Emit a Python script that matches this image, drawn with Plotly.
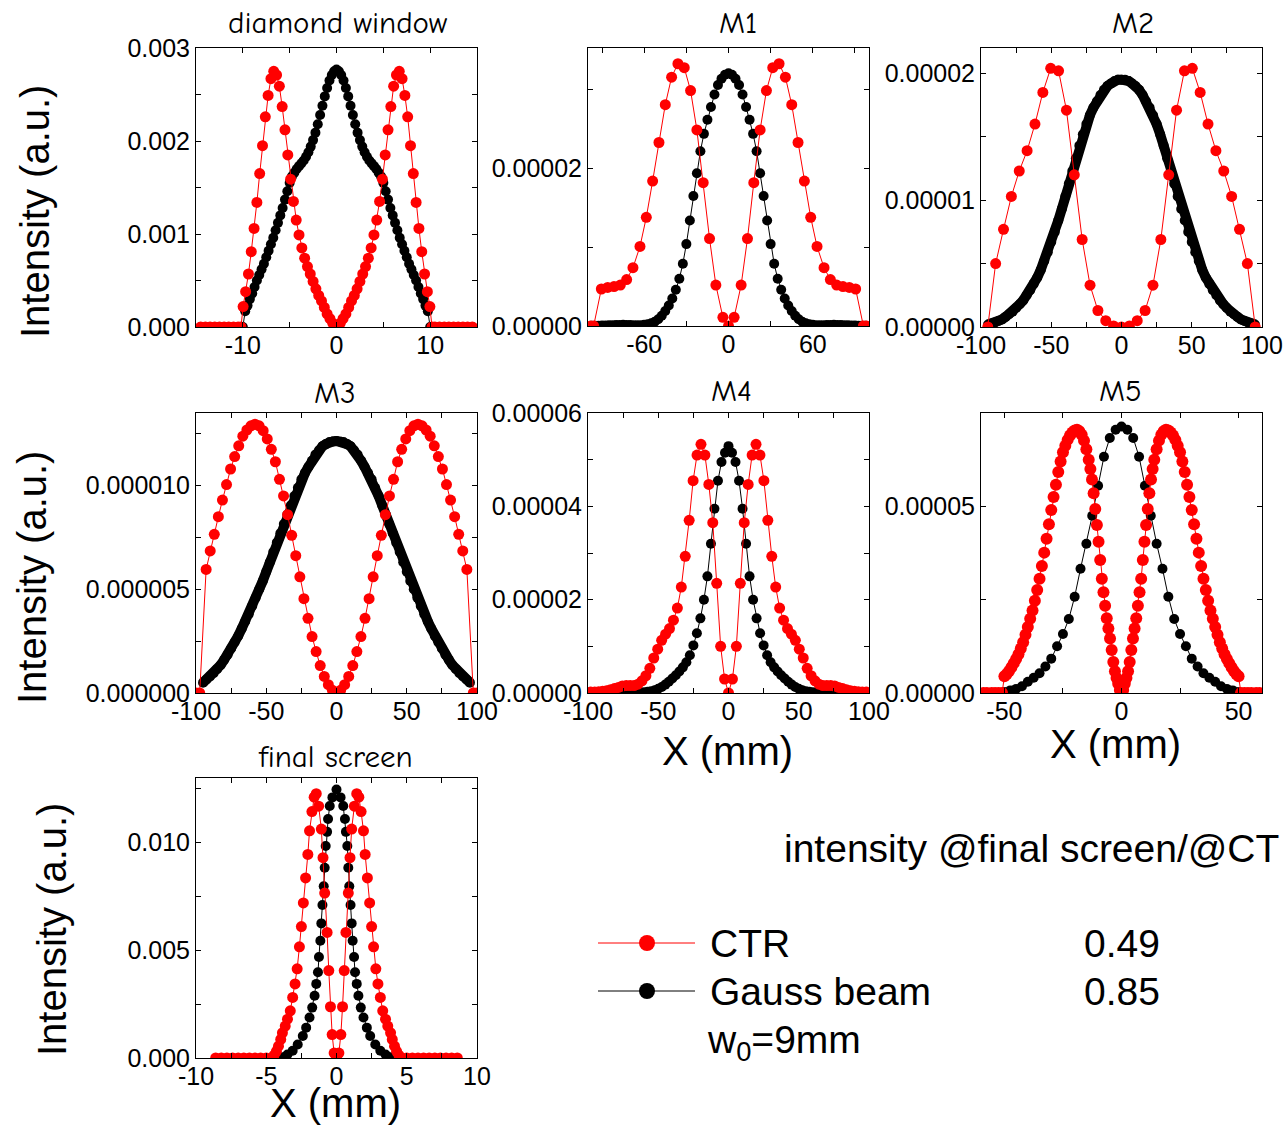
import plotly.graph_objects as go

# ---------------------------------------------------------------
# Data
# ---------------------------------------------------------------

# diamond window (y in units of 1e-3)
dw_ctr_x = [-14.5, -14.0, -13.5, -13.0, -12.5, -12.0, -11.5, -11.0, -10.5, -10.2,
            -9.97, -9.7, -9.4, -9.1, -8.8, -8.5, -8.2, -7.9, -7.6, -7.3, -7.0, -6.7, -6.4, -6.1, -5.8,
            -5.5, -5.2, -4.9, -4.6, -4.3, -4.0, -3.7, -3.4, -3.1, -2.8, -2.5, -2.2, -1.9, -1.6, -1.3,
            -1.0, -0.7, -0.4, -0.15,
            0.0,
            0.15, 0.4, 0.7, 1.0, 1.3, 1.6, 1.9, 2.2, 2.5, 2.8, 3.1, 3.4, 3.7, 4.0, 4.3, 4.6, 4.9,
            5.2, 5.5, 5.8, 6.1, 6.4, 6.7, 7.0, 7.3, 7.6, 7.9, 8.2, 8.5, 8.8, 9.1, 9.4, 9.7, 9.97,
            10.2, 10.5, 11.0, 11.5, 12.0, 12.5, 13.0, 13.5, 14.0, 14.5]
dw_ctr_y = [0, 0, 0, 0, 0, 0, 0, 0, 0, 0,
            0.22, 0.38, 0.57, 0.81, 1.06, 1.34, 1.65, 1.95, 2.26, 2.49, 2.67, 2.75, 2.71, 2.59, 2.37,
            2.12, 1.85, 1.59, 1.35, 1.15, 0.99, 0.85, 0.74, 0.65, 0.57, 0.49, 0.41, 0.34, 0.28, 0.21,
            0.14, 0.09, 0.04, 0.01,
            0.0,
            0.01, 0.04, 0.09, 0.14, 0.21, 0.28, 0.34, 0.41, 0.49, 0.57, 0.65, 0.74, 0.85, 0.99, 1.15,
            1.35, 1.59, 1.85, 2.12, 2.37, 2.59, 2.71, 2.75, 2.67, 2.49, 2.26, 1.95, 1.65, 1.34, 1.06,
            0.81, 0.57, 0.38, 0.22,
            0, 0, 0, 0, 0, 0, 0, 0, 0, 0]
dw_gauss_x = [-14.5, -13.5, -12.5, -11.5, -10.5, -10.0,
              -9.75, -9.5, -9.25, -9.0, -8.75, -8.5, -8.25, -8.0, -7.75, -7.5, -7.25, -7.0, -6.75,
              -6.5, -6.25, -6.0, -5.75, -5.5, -5.25, -5.0, -4.75, -4.5, -4.25, -4.0, -3.75, -3.5,
              -3.25, -3.0, -2.75, -2.5, -2.25, -2.0, -1.75, -1.5, -1.25, -1.0, -0.75, -0.5, -0.25,
              0.0,
              0.25, 0.5, 0.75, 1.0, 1.25, 1.5, 1.75, 2.0, 2.25, 2.5, 2.75, 3.0, 3.25, 3.5, 3.75,
              4.0, 4.25, 4.5, 4.75, 5.0, 5.25, 5.5, 5.75, 6.0, 6.25, 6.5, 6.75, 7.0, 7.25, 7.5,
              7.75, 8.0, 8.25, 8.5, 8.75, 9.0, 9.25, 9.5, 9.75,
              10.0, 10.5, 11.5, 12.5, 13.5, 14.5]
dw_gauss_y = [0, 0, 0, 0, 0, 0,
              0.17, 0.23, 0.30, 0.36, 0.43, 0.50, 0.56, 0.62, 0.68, 0.75, 0.82, 0.89, 0.96,
              1.04, 1.12, 1.20, 1.28, 1.37, 1.46, 1.55, 1.62, 1.66, 1.70, 1.73, 1.76, 1.79,
              1.83, 1.88, 1.94, 2.01, 2.09, 2.18, 2.28, 2.38, 2.48, 2.57, 2.65, 2.71, 2.75,
              2.77,
              2.75, 2.71, 2.65, 2.57, 2.48, 2.38, 2.28, 2.18, 2.09, 2.01, 1.94, 1.88, 1.83, 1.79,
              1.76, 1.73, 1.70, 1.66, 1.62, 1.55, 1.46, 1.37, 1.28, 1.20, 1.12, 1.04, 0.96, 0.89,
              0.82, 0.75, 0.68, 0.62, 0.56, 0.50, 0.43, 0.36, 0.30, 0.23, 0.17,
              0, 0, 0, 0, 0, 0]

# M1 (y in units of 1e-6)
m1_ctr_x = [-98, -96, -90.5, -86, -81.5, -77, -72.5, -68, -63, -58.5, -54, -49.5, -45, -40.5, -36,
            -31.5, -27, -22.5, -18, -13.5, -9, -4, 0, 4, 9, 13.5, 18, 22.5, 27, 31.5, 36, 40.5, 45,
            49.5, 54, 58.5, 63, 68, 72.5, 77, 81.5, 86, 90.5, 96, 98]
m1_ctr_y = [0, 0, 4.7, 4.9, 5.0, 5.2, 5.9, 7.4, 10.1, 13.8, 18.4, 23.3, 28.1, 31.6, 33.3,
            32.8, 29.9, 24.9, 18.2, 11.1, 5.2, 1.1, 0, 1.1, 5.2, 11.1, 18.2, 24.9, 29.9, 32.8, 33.3,
            31.6, 28.1, 23.3, 18.4, 13.8, 10.1, 7.4, 5.9, 5.2, 5.0, 4.9, 4.7, 0, 0]
m1_gauss_x = [-97.5, -95, -92.5, -90, -87.5, -85, -82.5, -80, -77.5, -75, -72.5, -70, -67.5, -65,
              -62.5, -60, -57.5, -55, -52.5, -50, -47.5, -45, -42.5, -40, -37.5, -35, -32.5, -30,
              -27.5, -25, -22.5, -20, -17.5, -15, -12.5, -10, -7.5, -5, -2.5, 0,
              2.5, 5, 7.5, 10, 12.5, 15, 17.5, 20, 22.5, 25, 27.5, 30, 32.5, 35, 37.5, 40, 42.5,
              45, 47.5, 50, 52.5, 55, 57.5, 60, 62.5, 65, 67.5, 70, 72.5, 75, 77.5, 80, 82.5, 85,
              87.5, 90, 92.5, 95, 97.5]
m1_gauss_y = [0.02, 0.03, 0.04, 0.05, 0.06, 0.08, 0.10, 0.12, 0.14, 0.15, 0.14, 0.12, 0.10, 0.10,
              0.10, 0.15, 0.22, 0.35, 0.55, 0.85, 1.3, 1.9, 2.6, 3.5, 4.6, 6.0, 7.9, 10.4,
              13.4, 16.5, 19.4, 22.2, 24.4, 26.2, 27.8, 29.4, 30.6, 31.4, 31.9, 32.1,
              31.9, 31.4, 30.6, 29.4, 27.8, 26.2, 24.4, 22.2, 19.4, 16.5, 13.4, 10.4, 7.9, 6.0,
              4.6, 3.5, 2.6, 1.9, 1.3, 0.85, 0.55, 0.35, 0.22, 0.15, 0.10, 0.10, 0.10, 0.12, 0.14,
              0.15, 0.14, 0.12, 0.10, 0.08, 0.06, 0.05, 0.04, 0.03, 0.02]

# M2 (y in units of 1e-6)
m2_ctr_x = [-95.2, -89.6, -84.0, -78.4, -72.8, -67.2, -61.6, -56.0, -50.4, -44.8, -39.2, -33.6,
            -28.0, -22.4, -16.8, -11.2, -5.6, 0.0, 5.6, 11.2, 16.8, 22.4, 28.0, 33.6, 39.2, 44.8,
            50.4, 56.0, 61.6, 67.2, 72.8, 78.4, 84.0, 89.6, 95.2]
m2_ctr_y = [0, 5.0, 7.7, 10.3, 12.3, 13.9, 16.0, 18.5, 20.4, 20.2, 17.1, 12.0,
            6.9, 3.3, 1.3, 0.5, 0.08, 0, 0.08, 0.5, 1.3, 3.3, 6.9, 12.0, 17.1, 20.2,
            20.4, 18.5, 16.0, 13.9, 12.3, 10.3, 7.7, 5.0, 0]
m2_gauss_x = [-95, -92.5, -90, -87.5, -85, -82.5, -80, -77.5, -75, -72.5, -70, -67.5, -65, -62.5,
              -60, -57.5, -55, -52.5, -50, -47.5, -45, -42.5, -40, -37.5, -35, -32.5, -30, -27.5,
              -25, -22.5, -20, -17.5, -15, -12.5, -10, -7.5, -5, -2.5, 0,
              2.5, 5, 7.5, 10, 12.5, 15, 17.5, 20, 22.5, 25, 27.5, 30, 32.5, 35, 37.5, 40, 42.5,
              45, 47.5, 50, 52.5, 55, 57.5, 60, 62.5, 65, 67.5, 70, 72.5, 75, 77.5, 80, 82.5, 85,
              87.5, 90, 92.5, 95]
m2_gauss_y = [0.2, 0.27, 0.36, 0.47, 0.6, 0.8, 1.0, 1.2, 1.5, 1.8, 2.1, 2.5, 2.9, 3.4,
              3.9, 4.5, 5.2, 5.9, 6.7, 7.5, 8.4, 9.3, 10.3, 11.3, 12.3, 13.3, 14.3, 15.2,
              16.0, 16.7, 17.3, 17.8, 18.3, 18.7, 19.0, 19.2, 19.4, 19.5, 19.5,
              19.5, 19.4, 19.2, 19.0, 18.7, 18.3, 17.8, 17.3, 16.7, 16.0, 15.2, 14.3, 13.3, 12.3,
              11.3, 10.3, 9.3, 8.4, 7.5, 6.7, 5.9, 5.2, 4.5, 3.9, 3.4, 2.9, 2.5, 2.1, 1.8, 1.5,
              1.2, 1.0, 0.8, 0.6, 0.47, 0.36, 0.27, 0.2]

# M3 (y in units of 1e-6)
m3_ctr_x = [-100, -97.4, -92.8, -89.9, -87.0, -84.1, -81.2, -78.3, -75.4, -72.5, -69.6, -66.7,
            -63.8, -60.9, -58.0, -55.1, -52.2, -49.3, -46.4, -43.5, -40.6, -37.7, -34.8, -31.9,
            -29.0, -26.1, -23.2, -20.3, -17.4, -14.5, -11.6, -8.7, -5.8, -2.9, 0.0,
            2.9, 5.8, 8.7, 11.6, 14.5, 17.4, 20.3, 23.2, 26.1, 29.0, 31.9, 34.8, 37.7, 40.6, 43.5,
            46.4, 49.3, 52.2, 55.1, 58.0, 60.9, 63.8, 66.7, 69.6, 72.5, 75.4, 78.3, 81.2, 84.1,
            87.0, 89.9, 92.8, 97.4, 100]
m3_ctr_y = [0, 0, 5.96, 6.85, 7.65, 8.5, 9.3, 10.05, 10.8, 11.4, 11.92, 12.38,
            12.68, 12.88, 12.96, 12.88, 12.65, 12.25, 11.75, 11.15, 10.3, 9.5, 8.6, 7.6,
            6.62, 5.6, 4.55, 3.6, 2.72, 2.0, 1.32, 0.80, 0.40, 0.13, 0,
            0.13, 0.40, 0.80, 1.32, 2.0, 2.72, 3.6, 4.55, 5.6, 6.62, 7.6, 8.6, 9.5, 10.3, 11.15,
            11.75, 12.25, 12.65, 12.88, 12.96, 12.88, 12.68, 12.38, 11.92, 11.4, 10.8, 10.05, 9.3,
            8.5, 7.65, 6.85, 5.96, 0, 0]
m3_gauss_x = [-95, -92.5, -90, -87.5, -85, -82.5, -80, -77.5, -75, -72.5, -70, -67.5, -65, -62.5,
              -60, -57.5, -55, -52.5, -50, -47.5, -45, -42.5, -40, -37.5, -35, -32.5, -30, -27.5,
              -25, -22.5, -20, -17.5, -15, -12.5, -10, -7.5, -5, -2.5, 0,
              2.5, 5, 7.5, 10, 12.5, 15, 17.5, 20, 22.5, 25, 27.5, 30, 32.5, 35, 37.5, 40, 42.5,
              45, 47.5, 50, 52.5, 55, 57.5, 60, 62.5, 65, 67.5, 70, 72.5, 75, 77.5, 80, 82.5, 85,
              87.5, 90, 92.5, 95]
m3_gauss_y = [0.5, 0.65, 0.8, 0.95, 1.15, 1.35, 1.6, 1.85, 2.15, 2.45, 2.75, 3.1, 3.45, 3.8,
              4.2, 4.6, 5.0, 5.4, 5.85, 6.3, 6.8, 7.25, 7.7, 8.15, 8.6, 9.05, 9.5, 9.9,
              10.3, 10.6, 10.9, 11.2, 11.5, 11.7, 11.9, 12.0, 12.1, 12.13, 12.15,
              12.13, 12.1, 12.0, 11.9, 11.7, 11.5, 11.2, 10.9, 10.6, 10.3, 9.9, 9.5, 9.05, 8.6,
              8.15, 7.7, 7.25, 6.8, 6.3, 5.85, 5.4, 5.0, 4.6, 4.2, 3.8, 3.45, 3.1, 2.75, 2.45,
              2.15, 1.85, 1.6, 1.35, 1.15, 0.95, 0.8, 0.65, 0.5]

# M4 (y in units of 1e-6)
m4_ctr_x = [-98.0, -95.2, -92.4, -89.6, -86.8, -84.0, -81.2, -78.4, -75.6, -72.8, -70.0, -67.2,
            -64.4, -61.6, -58.8, -56.0, -53.2, -50.4, -47.6, -44.8, -42.0, -39.2, -36.4, -33.6,
            -30.8, -28.0, -25.2, -22.4, -19.6, -16.8, -14.0, -11.2, -8.4, -5.6, -2.8, 0.0,
            2.8, 5.6, 8.4, 11.2, 14.0, 16.8, 19.6, 22.4, 25.2, 28.0, 30.8, 33.6, 36.4, 39.2, 42.0,
            44.8, 47.6, 50.4, 53.2, 56.0, 58.8, 61.6, 64.4, 67.2, 70.0, 72.8, 75.6, 78.4, 81.2,
            84.0, 86.8, 89.6, 92.4, 95.2, 98.0]
m4_ctr_y = [0.2, 0.2, 0.25, 0.35, 0.5, 0.7, 0.95, 1.2, 1.5, 1.6, 1.6, 1.6,
            1.9, 2.6, 3.7, 5.3, 7.5, 9.4, 11.3, 12.6, 13.8, 15.6, 18.2, 22.7,
            29.3, 37.0, 45.5, 51.0, 53.3, 51.0, 44.7, 36.5, 23.5, 10.0, 3.0, 0,
            3.0, 10.0, 23.5, 36.5, 44.7, 51.0, 53.3, 51.0, 45.5, 37.0, 29.3, 22.7, 18.2, 15.6, 13.8,
            12.6, 11.3, 9.4, 7.5, 5.3, 3.7, 2.6, 1.9, 1.6, 1.6, 1.6, 1.5, 1.2, 0.95,
            0.7, 0.5, 0.35, 0.25, 0.2, 0.2]
m4_gauss_x = [-90, -87.5, -85, -82.5, -80, -77.5, -75, -72.5, -70, -67.5, -65, -62.5,
              -60, -57.5, -55, -52.5, -50, -47.5, -45, -42.5, -40, -37.5, -35, -32.5, -30, -27.5,
              -25, -22.5, -20, -17.5, -15, -12.5, -10, -7.5, -5, -2.5, 0,
              2.5, 5, 7.5, 10, 12.5, 15, 17.5, 20, 22.5, 25, 27.5, 30, 32.5, 35, 37.5, 40, 42.5,
              45, 47.5, 50, 52.5, 55, 57.5, 60, 62.5, 65, 67.5, 70, 72.5, 75, 77.5, 80, 82.5, 85,
              87.5, 90]
m4_gauss_y = [0, 0, 0.01, 0.01, 0.02, 0.02, 0.03, 0.04, 0.05, 0.06, 0.08, 0.1,
              0.15, 0.25, 0.4, 0.6, 0.9, 1.3, 1.8, 2.4, 3.1, 3.8, 4.6, 5.5, 6.6, 8.1,
              10.2, 12.8, 16.0, 20.0, 25.0, 32.0, 39.5, 45.5, 49.5, 51.5, 52.9,
              51.5, 49.5, 45.5, 39.5, 32.0, 25.0, 20.0, 16.0, 12.8, 10.2, 8.1, 6.6, 5.5, 4.6, 3.8,
              3.1, 2.4, 1.8, 1.3, 0.9, 0.6, 0.4, 0.25, 0.15, 0.1, 0.08, 0.06, 0.05, 0.04, 0.03,
              0.02, 0.02, 0.01, 0.01, 0, 0]

# M5 (y in units of 1e-6)
m5_ctr_x = [-59, -57.5, -55.5, -54, -52.5, -51,
            -50, -49, -48, -47, -46, -45, -44, -43, -42, -41, -40, -39, -38, -37, -36, -35, -34,
            -33, -32, -31, -30, -29, -28, -27, -26, -25, -24, -23, -22, -21, -20, -19, -18, -17,
            -16, -15, -14,
            -13.3, -12.6, -11.9, -11.2, -10.5, -9.8, -9.1, -8.4, -7.7, -7.0, -6.3, -5.6, -4.9,
            -4.2, -3.5, -2.8, -2.1, -1.4, -0.7, 0.0, 0.7, 1.4, 2.1, 2.8, 3.5, 4.2, 4.9, 5.6, 6.3,
            7.0, 7.7, 8.4, 9.1, 9.8, 10.5, 11.2, 11.9, 12.6, 13.3,
            14, 15, 16, 17, 18, 19, 20, 21, 22, 23, 24, 25, 26, 27, 28, 29, 30, 31, 32, 33, 34,
            35, 36, 37, 38, 39, 40, 41, 42, 43, 44, 45, 46, 47, 48, 49, 50,
            51, 52.5, 54, 55.5, 57.5, 59]
m5_ctr_y = [0, 0, 0, 0, 0, 0,
            4.5, 5.1, 5.9, 6.9, 8.0, 9.1, 10.4, 11.9, 13.6, 15.6, 17.7, 19.9, 22.1, 24.7, 27.6,
            30.6, 34.0, 37.6, 41.3, 45.2, 49.0, 52.5, 55.8, 59.2, 62.0, 64.5, 66.2, 67.8, 69.0,
            69.8, 70.3, 70.5, 70.1, 69.2, 67.6, 65.3, 62.5,
            60.0, 57.2, 53.5, 49.3, 45.0, 40.5, 35.6, 30.6, 27.0, 23.4, 20.0, 17.3, 14.6,
            11.5, 8.3, 5.8, 4.0, 2.5, 0.8, 0.0, 0.8, 2.5, 4.0, 5.8, 8.3, 11.5, 14.6, 17.3, 20.0,
            23.4, 27.0, 30.6, 35.6, 40.5, 45.0, 49.3, 53.5, 57.2, 60.0,
            62.5, 65.3, 67.6, 69.2, 70.1, 70.5, 70.3, 69.8, 69.0, 67.8, 66.2, 64.5, 62.0, 59.2,
            55.8, 52.5, 49.0, 45.2, 41.3, 37.6, 34.0, 30.6, 27.6, 24.7, 22.1, 19.9, 17.7, 15.6,
            13.6, 11.9, 10.4, 9.1, 8.0, 6.9, 5.9, 5.1, 4.5,
            0, 0, 0, 0, 0, 0]
m5_gauss_x = [-50, -47.5, -45, -42.5, -40, -37.5, -35, -32.5, -30, -27.5, -25, -22.5, -20, -17.5,
              -15, -12.5, -10, -7.5, -5, -2.5, 0, 2.5, 5, 7.5, 10, 12.5, 15, 17.5, 20, 22.5, 25,
              27.5, 30, 32.5, 35, 37.5, 40, 42.5, 45, 47.5, 50]
m5_gauss_y = [0.3, 0.7, 1.1, 1.8, 3.0, 4.1, 5.3, 7.1, 9.2, 12.5, 15.8, 19.8, 25.8, 33.3,
              40.0, 47.5, 55.5, 63.3, 68.3, 70.5, 71.4, 70.5, 68.3, 63.3, 55.5, 47.5, 40.0, 33.3,
              25.8, 19.8, 15.8, 12.5, 9.2, 7.1, 5.3, 4.1, 3.0, 1.8, 1.1, 0.7, 0.3]

# final screen (y in units of 1e-3)
fs_ctr_x = [-8.6, -8.2, -7.8, -7.4, -7.0, -6.6, -6.2, -5.8, -5.4, -5.0, -4.6,
            -4.45, -4.28, -4.13, -3.97, -3.85, -3.65, -3.49, -3.29, -3.12, -2.95, -2.8, -2.64,
            -2.5, -2.36, -2.2, -2.04, -1.92, -1.75, -1.59, -1.44, -1.27, -1.08, -0.96, -0.84,
            -0.67, -0.55, -0.43, -0.31, -0.17, 0.0,
            0.17, 0.31, 0.43, 0.55, 0.67, 0.84, 0.96, 1.08, 1.27, 1.44, 1.59, 1.75, 1.92, 2.04,
            2.2, 2.36, 2.5, 2.64, 2.8, 2.95, 3.12, 3.29, 3.49, 3.65, 3.85, 3.97, 4.13, 4.28, 4.45,
            4.6, 5.0, 5.4, 5.8, 6.2, 6.6, 7.0, 7.4, 7.8, 8.2, 8.6]
fs_ctr_y = [0, 0, 0, 0, 0, 0, 0, 0, 0, 0, 0,
            0.12, 0.31, 0.55, 0.86, 1.17, 1.48, 1.80, 2.19, 2.81, 3.44, 4.14, 5.16,
            6.10, 7.20, 8.36, 9.45, 10.55, 11.44, 12.11, 12.27, 11.69, 10.63, 9.30, 7.66,
            5.83, 4.06, 2.38, 1.09, 0.23, 0.0,
            0.23, 1.09, 2.38, 4.06, 5.83, 7.66, 9.30, 10.63, 11.69, 12.27, 12.11, 11.44, 10.55,
            9.45, 8.36, 7.20, 6.10, 5.16, 4.14, 3.44, 2.81, 2.19, 1.80, 1.48, 1.17, 0.86, 0.55,
            0.31, 0.12,
            0, 0, 0, 0, 0, 0, 0, 0, 0, 0, 0]
fs_gauss_x = [-3.85, -3.49, -3.12, -2.76, -2.4, -2.16, -1.92, -1.73, -1.56, -1.44, -1.32, -1.25,
              -1.15, -1.08, -1.0, -0.91, -0.84, -0.77, -0.67, -0.6, -0.48, -0.29, 0.0,
              0.29, 0.48, 0.6, 0.67, 0.77, 0.84, 0.91, 1.0, 1.08, 1.15, 1.25, 1.32, 1.44, 1.56,
              1.73, 1.92, 2.16, 2.4, 2.76, 3.12, 3.49, 3.85]
fs_gauss_y = [0.03, 0.16, 0.34, 0.63, 1.02, 1.41, 1.88, 2.34, 2.89, 3.44, 3.98, 4.69,
              5.44, 6.25, 7.1, 7.97, 8.83, 9.84, 10.5, 11.1, 11.7, 12.1, 12.47,
              12.1, 11.7, 11.1, 10.5, 9.84, 8.83, 7.97, 7.1, 6.25, 5.44, 4.69, 3.98, 3.44, 2.89,
              2.34, 1.88, 1.41, 1.02, 0.63, 0.34, 0.16, 0.03]

# tick positions / labels ("" = unlabeled minor tick)
dw_xticks = [-10, -5, 0, 5, 10];            dw_xlabels = ["-10", "", "0", "", "10"]
dw_yticks = [0, 0.0005, 0.001, 0.0015, 0.002, 0.0025, 0.003]
dw_ylabels = ["0.000", "", "0.001", "", "0.002", "", "0.003"]
m1_xticks = [-90, -60, -30, 0, 30, 60, 90]; m1_xlabels = ["", "-60", "", "0", "", "60", ""]
m1_yticks = [0, 1e-5, 2e-5, 3e-5];          m1_ylabels = ["0.00000", "", "0.00002", ""]
m100_xticks = [-100, -75, -50, -25, 0, 25, 50, 75, 100]
m100_xlabels = ["-100", "", "-50", "", "0", "", "50", "", "100"]
m2_yticks = [0, 5e-6, 1e-5, 1.5e-5, 2e-5];  m2_ylabels = ["0.00000", "", "0.00001", "", "0.00002"]
m3_yticks = [0, 2.5e-6, 5e-6, 7.5e-6, 1e-5, 1.25e-5]
m3_ylabels = ["0.000000", "", "0.000005", "", "0.000010", ""]
m4_yticks = [0, 1e-5, 2e-5, 3e-5, 4e-5, 5e-5, 6e-5]
m4_ylabels = ["0.00000", "", "0.00002", "", "0.00004", "", "0.00006"]
m5_xticks = [-50, -25, 0, 25, 50];          m5_xlabels = ["-50", "", "0", "", "50"]
m5_yticks = [0, 2.5e-5, 5e-5, 7.5e-5];      m5_ylabels = ["0.00000", "", "0.00005", ""]
fs_xticks = [-10, -7.5, -5, -2.5, 0, 2.5, 5, 7.5, 10]
fs_xlabels = ["-10", "", "-5", "", "0", "", "5", "", "10"]
fs_yticks = [0, 0.0025, 0.005, 0.0075, 0.01, 0.0125]
fs_ylabels = ["0.000", "", "0.005", "", "0.010", ""]

ratio_labels = ["0.49", "0.85"]

# ---------------------------------------------------------------
# Layout
# ---------------------------------------------------------------
W, H = 1284, 1125
FONT = "Liberation Sans, Arial, Helvetica, sans-serif"
TFONT = "Comic Sans MS, Comic Neue, Noto Sans, sans-serif"
RED = "#ff0000"


def px(x):
    return x / W


def py(y):
    return 1 - y / H


panels = [
    dict(title="diamond window", box=(196, 48, 477, 327), tpos=(338, 23), s=1e-3,
         ctr=(dw_ctr_x, dw_ctr_y), gau=(dw_gauss_x, dw_gauss_y), glw=1, csz=11,
         xr=[-15, 15], xt=(dw_xticks, dw_xlabels), yr=[0, 0.0030003], yt=(dw_yticks, dw_ylabels)),
    dict(title="M1", box=(588, 48, 869, 326), tpos=(738, 23), s=1e-6,
         ctr=(m1_ctr_x, m1_ctr_y), gau=(m1_gauss_x, m1_gauss_y), glw=1, csz=11,
         xr=[-100, 100], xt=(m1_xticks, m1_xlabels), yr=[0, 3.53e-5], yt=(m1_yticks, m1_ylabels)),
    dict(title="M2", box=(981, 48, 1262, 327), tpos=(1133, 23), s=1e-6,
         ctr=(m2_ctr_x, m2_ctr_y), gau=(m2_gauss_x, m2_gauss_y), glw=10, csz=11,
         xr=[-100.02, 100.02], xt=(m100_xticks, m100_xlabels), yr=[0, 2.2e-5], yt=(m2_yticks, m2_ylabels)),
    dict(title="M3", box=(196, 413, 477, 693), tpos=(335, 393), s=1e-6,
         ctr=(m3_ctr_x, m3_ctr_y), gau=(m3_gauss_x, m3_gauss_y), glw=10, csz=11,
         xr=[-100.02, 100.02], xt=(m100_xticks, m100_xlabels), yr=[0, 1.35e-5], yt=(m3_yticks, m3_ylabels)),
    dict(title="M4", box=(588, 413, 869, 693), tpos=(732, 391), s=1e-6,
         ctr=(m4_ctr_x, m4_ctr_y), gau=(m4_gauss_x, m4_gauss_y), glw=1, csz=11,
         xr=[-100.02, 100.02], xt=(m100_xticks, m100_xlabels), yr=[0, 6.0006e-5], yt=(m4_yticks, m4_ylabels)),
    dict(title="M5", box=(981, 413, 1262, 693), tpos=(1120, 391), s=1e-6,
         ctr=(m5_ctr_x, m5_ctr_y), gau=(m5_gauss_x, m5_gauss_y), glw=1, csz=12,
         xr=[-60, 60], xt=(m5_xticks, m5_xlabels), yr=[0, 7.5e-5], yt=(m5_yticks, m5_ylabels)),
    dict(title="final screen", box=(196, 778, 477, 1058), tpos=(335, 757), s=1e-3,
         ctr=(fs_ctr_x, fs_ctr_y), gau=(fs_gauss_x, fs_gauss_y), glw=1, csz=11,
         xr=[-10.002, 10.002], xt=(fs_xticks, fs_xlabels), yr=[0, 0.013], yt=(fs_yticks, fs_ylabels)),
]

fig = go.Figure()
annotations = []

axis_common = dict(showline=True, linecolor="black", linewidth=1, mirror="ticks",
                   ticks="inside", ticklen=5, tickwidth=1, tickcolor="black",
                   showgrid=False, zeroline=False, tickmode="array", fixedrange=True,
                   automargin=False,
                   tickfont=dict(family=FONT, size=25, color="black"))

for i, p in enumerate(panels, start=1):
    sfx = "" if i == 1 else str(i)
    xa, ya = "x" + sfx, "y" + sfx
    l, t, r, b = p["box"]
    gx, gy = p["gau"]
    cx, cy = p["ctr"]
    fig.add_trace(go.Scatter(x=gx, y=[v * p["s"] for v in gy], xaxis=xa, yaxis=ya,
                             mode="lines+markers", cliponaxis=True, showlegend=False,
                             line=dict(color="black", width=p["glw"]),
                             marker=dict(color="black", size=10, line=dict(width=0))))
    fig.add_trace(go.Scatter(x=cx, y=[v * p["s"] for v in cy], xaxis=xa, yaxis=ya,
                             mode="lines+markers", cliponaxis=True, showlegend=False,
                             line=dict(color=RED, width=1),
                             marker=dict(color=RED, size=p["csz"], line=dict(width=0))))
    fig.layout["xaxis" + sfx] = dict(domain=[px(l), px(r)], anchor=ya, range=p["xr"],
                                     tickvals=p["xt"][0], ticktext=p["xt"][1],
                                     ticklabelstandoff=-4, **axis_common)
    fig.layout["yaxis" + sfx] = dict(domain=[py(b), py(t)], anchor=xa, range=p["yr"],
                                     tickvals=p["yt"][0], ticktext=p["yt"][1], **axis_common)
    annotations.append(dict(text=p["title"], x=px(p["tpos"][0]), y=py(p["tpos"][1]),
                            xref="paper", yref="paper", showarrow=False,
                            xanchor="center", yanchor="middle",
                            font=dict(family=TFONT, size=31, color="black")))

# axis titles
for (x, y) in [(35, 212), (32, 578), (52, 930)]:
    annotations.append(dict(text="Intensity (a.u.)", x=px(x), y=py(y), xref="paper", yref="paper",
                            showarrow=False, textangle=-90, xanchor="center", yanchor="middle",
                            font=dict(family=FONT, size=40, color="black")))
for (x, y) in [(727, 751), (1115, 744), (335, 1103)]:
    annotations.append(dict(text="X (mm)", x=px(x), y=py(y), xref="paper", yref="paper",
                            showarrow=False, xanchor="center", yanchor="middle",
                            font=dict(family=FONT, size=40, color="black")))

# legend / text block
annotations.append(dict(text="intensity @final screen/@CT", x=px(782), y=py(848), xref="paper",
                        yref="paper", showarrow=False, xanchor="left", yanchor="middle",
                        font=dict(family=FONT, size=39, color="black")))
for txt, y in [("CTR", 943), ("Gauss beam", 991)]:
    annotations.append(dict(text=txt, x=px(708), y=py(y), xref="paper", yref="paper",
                            showarrow=False, xanchor="left", yanchor="middle",
                            font=dict(family=FONT, size=39, color="black")))
annotations.append(dict(text="w<sub>0</sub>=9mm", x=px(705), y=py(1042), xref="paper", yref="paper",
                        showarrow=False, xanchor="left", yanchor="middle",
                        font=dict(family=FONT, size=39, color="black")))
for txt, y in zip(ratio_labels, [943, 991]):
    annotations.append(dict(text=txt, x=px(1122), y=py(y), xref="paper", yref="paper",
                            showarrow=False, xanchor="center", yanchor="middle",
                            font=dict(family=FONT, size=39, color="black")))

shapes = []
for col, y in [(RED, 943), ("black", 991)]:
    shapes.append(dict(type="line", xref="paper", yref="paper", x0=px(598), x1=px(695),
                       y0=py(y), y1=py(y), line=dict(color=col, width=1)))
    shapes.append(dict(type="circle", xref="paper", yref="paper", x0=px(639), x1=px(655),
                       y0=py(y + 8), y1=py(y - 8), fillcolor=col, line=dict(width=0)))

fig.update_layout(template="none", width=W, height=H,
                  margin=dict(l=0, r=0, t=0, b=0, autoexpand=False),
                  paper_bgcolor="white", plot_bgcolor="white", showlegend=False,
                  annotations=annotations, shapes=shapes,
                  font=dict(family=FONT, color="black"))

fig.write_html("out.html")
